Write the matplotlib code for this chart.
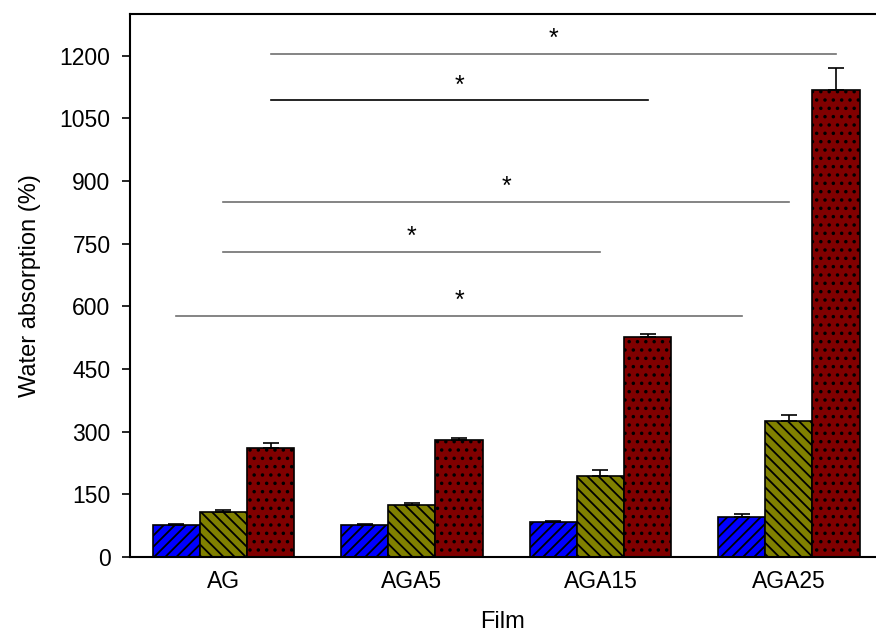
import numpy as np
import matplotlib
matplotlib.use("Agg")
import matplotlib.pyplot as plt

# ==============================
# DATA
# ==============================

films = ["AG", "AGA5", "AGA15", "AGA25"]

series_a = [76.6, 77.4, 84.6, 96.6]
series_a_err = [3.0, 2.5, 2.5, 7.0]

series_b = [108.5, 125.3, 194.8, 325.0]
series_b_err = [4.5, 3.0, 14.0, 15.0]

series_c = [261.8, 280.0, 527.7, 1117.8]
series_c_err = [12.0, 5.0, 7.0, 54.0]

# significance brackets: (series index, from film, to film, height, colour)
sig_series = [2, 2, 1, 1, 0]
sig_from = [0, 0, 0, 0, 0]
sig_to = [3, 2, 3, 2, 3]
sig_height = [1205, 1094, 851, 731, 578]
sig_color = ["#707070", "#000000", "#707070", "#707070", "#707070"]

# ==============================
# STYLE
# ==============================

plt.rcParams["font.family"] = ["Liberation Sans", "DejaVu Sans"]
plt.rcParams["hatch.linewidth"] = 1.3
plt.rcParams["hatch.color"] = "black"

colors = ["#0000ff", "#808000", "#800000"]
hatches = ["///", "\\\\\\", ".."]
width = 0.25

# ==============================
# PLOT
# ==============================

fig = plt.figure(figsize=(8.76, 6.37), dpi=100)
ax = fig.add_axes([130 / 876, 80 / 637, 1 - 130 / 876, 543 / 637])

x = np.arange(len(films))
values = [series_a, series_b, series_c]
errors = [series_a_err, series_b_err, series_c_err]

for i, (vals, errs) in enumerate(zip(values, errors)):
    pos = x + (i - 1) * width
    ax.bar(pos, vals, width, color=colors[i], edgecolor="black",
           linewidth=1.2, hatch=hatches[i], zorder=2)
    ax.errorbar(pos, vals, yerr=[np.zeros(len(errs)), errs], fmt="none",
                ecolor="black", elinewidth=1.2, capsize=6, capthick=1.2,
                zorder=3)

for s, a, b, h, c in zip(sig_series, sig_from, sig_to, sig_height, sig_color):
    x0 = a + (s - 1) * width
    x1 = b + (s - 1) * width
    ax.plot([x0, x1], [h, h], color=c, linewidth=1.2, zorder=1)
    ax.text((x0 + x1) / 2, h + 6, "*", ha="center", va="bottom", fontsize=18)

ax.set_xlim(-0.4955, 3.462)
ax.set_ylim(0, 1300)
ax.set_yticks(np.arange(0, 1201, 150))
ax.set_xticks(x)
ax.set_xticklabels(films)
ax.tick_params(axis="y", direction="out", length=6, width=1.2, labelsize=16.5, pad=8)
ax.tick_params(axis="x", length=0, labelsize=16.5, pad=9)

ax.spines["right"].set_visible(False)
for side in ["left", "bottom", "top"]:
    ax.spines[side].set_linewidth(1.5)

ax.set_xlabel("Film", fontsize=17, labelpad=13)
ax.set_ylabel("Water absorption (%)", fontsize=17, labelpad=13)

fig.savefig("out.png", dpi=100)
